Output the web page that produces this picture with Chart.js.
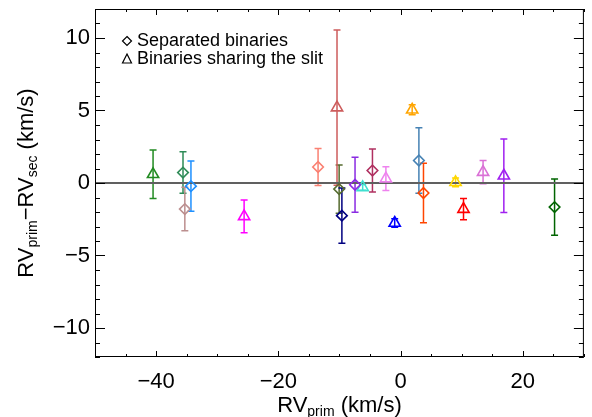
<!DOCTYPE html>
<html>
<head>
<meta charset="utf-8">
<script src="https://cdn.jsdelivr.net/npm/chart.js@4/dist/chart.umd.min.js"></script>
<style>
  html, body { margin: 0; padding: 0; background: #fff; }
  #wrap { width: 592px; height: 417px; }
</style>
</head>
<body>
<div id="wrap"><canvas id="rvChart" width="592" height="417"></canvas></div>
<script>
// Separated binaries (diamonds)
const sepX     = [-35.6, -34.3, -35.3, -13.5, -10.05, -9.6, -7.45, -4.6, 3.0, 3.75, 25.2];
const sepY     = [0.72, -0.22, -1.8, 1.1, -0.42, -2.25, -0.12, 0.86, 1.55, -0.69, -1.66];
const sepErr   = [1.43, 1.73, 1.5, 1.28, 1.66, 1.9, 1.9, 1.48, 2.26, 2.05, 1.94];
const sepColor = ["#2e8b57", "#1e90ff", "#bc8f8f", "#fa8072", "#556b2f", "#000080",
                  "#8a2be2", "#b03060", "#4682b4", "#ff4500", "#006400"];

// Binaries sharing the slit (triangles)
const slitX     = [-40.5, -25.6, -10.4, -6.2, -2.4, -0.96, 1.9, 9.0, 10.3, 13.5, 16.9];
const slitY     = [0.6, -2.3, 5.2, -0.3, 0.3, -2.76, 5.05, 0.05, -1.8, 0.75, 0.5];
const slitErr   = [1.67, 1.13, 5.35, 0.2, 0.82, 0.3, 0.35, 0.3, 0.73, 0.8, 2.54];
const slitColor = ["#228b22", "#ff00ff", "#cd5c5c", "#40e0d0", "#ee82ee", "#0000ff",
                   "#ffa500", "#ffd700", "#ff0000", "#da70d6", "#a020f0"];

const xTicks = [-40, -20, 0, 20];
const yTicks = [-10, -5, 0, 5, 10];

const FONT = "'Liberation Sans', Arial, Helvetica, sans-serif";

function toPoints(xs, ys) {
  return xs.map((x, i) => ({ x, y: ys[i] }));
}

// error bars with small caps
const errorBars = {
  id: "errorBars",
  beforeDatasetsDraw(chart) {
    const { ctx, scales: { x, y } } = chart;
    const sets = [[sepX, sepY, sepErr, sepColor], [slitX, slitY, slitErr, slitColor]];
    ctx.save();
    ctx.lineWidth = 1.5;
    sets.forEach(([xs, ys, es, cs]) => {
      xs.forEach((v, i) => {
        const px = x.getPixelForValue(v);
        const top = y.getPixelForValue(ys[i] + es[i]);
        const bot = y.getPixelForValue(ys[i] - es[i]);
        ctx.strokeStyle = cs[i];
        ctx.beginPath();
        ctx.moveTo(px, top); ctx.lineTo(px, bot);
        ctx.moveTo(px - 3.5, top); ctx.lineTo(px + 3.5, top);
        ctx.moveTo(px - 3.5, bot); ctx.lineTo(px + 3.5, bot);
        ctx.stroke();
      });
    });
    ctx.restore();
  }
};

// frame, inward ticks, zero line, titles, legend
const decor = {
  id: "decor",
  beforeDatasetsDraw(chart) {
    const { ctx, chartArea: a, scales: { y } } = chart;
    const y0 = y.getPixelForValue(0);
    ctx.save();
    ctx.strokeStyle = "#606060";
    ctx.lineWidth = 2;
    ctx.beginPath();
    ctx.moveTo(a.left, y0); ctx.lineTo(a.right, y0);
    ctx.stroke();
    ctx.restore();
  },
  afterDraw(chart) {
    const { ctx, chartArea: a, scales: { x, y } } = chart;
    ctx.save();
    ctx.strokeStyle = "#000";
    ctx.lineWidth = 1;
    ctx.strokeRect(a.left + 0.5, a.top + 0.5, a.right - a.left - 1, a.bottom - a.top - 1);

    ctx.beginPath();
    for (let v = -50; v <= 30; v += 5) {
      const px = Math.round(x.getPixelForValue(v)) + 0.5;
      const len = v % 20 === 0 ? 6 : 3;
      ctx.moveTo(px, a.bottom); ctx.lineTo(px, a.bottom - len);
      ctx.moveTo(px, a.top); ctx.lineTo(px, a.top + len);
    }
    for (let v = -12; v <= 12; v += 1) {
      const py = Math.round(y.getPixelForValue(v)) + 0.5;
      const len = v % 5 === 0 ? 10 : 5;
      ctx.moveTo(a.left, py); ctx.lineTo(a.left + len, py);
      ctx.moveTo(a.right, py); ctx.lineTo(a.right - len, py);
    }
    ctx.stroke();

    // axis titles with subscripts
    ctx.fillStyle = "#000";
    ctx.textBaseline = "alphabetic";
    const drawParts = (parts) => {
      let w = 0;
      parts.forEach(p => { ctx.font = p[1] + "px " + FONT; w += ctx.measureText(p[0]).width; });
      let cx = -w / 2;
      parts.forEach(p => {
        ctx.font = p[1] + "px " + FONT;
        ctx.fillText(p[0], cx, p[2]);
        cx += ctx.measureText(p[0]).width;
      });
    };
    ctx.save();
    ctx.translate((a.left + a.right) / 2, 412);
    drawParts([["RV", 22, 0], ["prim", 14, 4], [" (km/s)", 22, 0]]);
    ctx.restore();

    ctx.save();
    ctx.translate(33, (a.top + a.bottom) / 2);
    ctx.rotate(-Math.PI / 2);
    drawParts([["RV", 22, 0], ["prim", 14, 4], ["\u2212RV", 22, 0], ["sec", 14, 4], [" (km/s)", 22, 0]]);
    ctx.restore();

    // legend
    ctx.font = "18px " + FONT;
    ctx.textBaseline = "middle";
    ctx.fillText("Separated binaries", 137, 41);
    ctx.fillText("Binaries sharing the slit", 137, 59);
    ctx.lineWidth = 1.2;
    ctx.beginPath();
    ctx.moveTo(127, 36.5); ctx.lineTo(131.5, 41); ctx.lineTo(127, 45.5); ctx.lineTo(122.5, 41); ctx.closePath();
    ctx.moveTo(127, 54); ctx.lineTo(131.5, 63); ctx.lineTo(122.5, 63); ctx.closePath();
    ctx.stroke();
    ctx.restore();
  }
};

new Chart(document.getElementById("rvChart"), {
  type: "scatter",
  data: {
    datasets: [
      {
        label: "Separated binaries",
        data: toPoints(sepX, sepY),
        pointStyle: "rectRot",
        pointRadius: 5.3,
        pointBorderWidth: 1.6,
        borderColor: sepColor,
        backgroundColor: "rgba(0,0,0,0)"
      },
      {
        label: "Binaries sharing the slit",
        data: toPoints(slitX, slitY),
        pointStyle: "triangle",
        pointRadius: 6.5,
        pointBorderWidth: 1.6,
        borderColor: slitColor,
        backgroundColor: "rgba(0,0,0,0)"
      }
    ]
  },
  plugins: [errorBars, decor],
  options: {
    responsive: false,
    animation: false,
    events: [],
    layout: { padding: { left: 0, right: 5, top: 9, bottom: 0 } },
    plugins: { legend: { display: false }, tooltip: { enabled: false } },
    scales: {
      x: {
        type: "linear",
        min: -50,
        max: 30,
        afterBuildTicks: (s) => { s.ticks = xTicks.map(v => ({ value: v })); },
        afterFit: (s) => { s.height = 60; s.paddingLeft = 0; s.paddingRight = 0; },
        grid: { display: false, drawTicks: false },
        border: { display: false },
        ticks: {
          padding: 12,
          color: "#000",
          font: { family: FONT, size: 22 },
          callback: (v) => (v < 0 ? "\u2212" + Math.abs(v) : String(v))
        }
      },
      y: {
        type: "linear",
        min: -12,
        max: 12,
        afterBuildTicks: (s) => { s.ticks = yTicks.map(v => ({ value: v })); },
        afterFit: (s) => { s.width = 95; s.paddingTop = 0; s.paddingBottom = 0; },
        grid: { display: false, drawTicks: false },
        border: { display: false },
        ticks: {
          padding: 5,
          color: "#000",
          font: { family: FONT, size: 22 },
          callback: (v) => (v < 0 ? "\u2212" + Math.abs(v) : String(v))
        }
      }
    }
  }
});
</script>
</body>
</html>
